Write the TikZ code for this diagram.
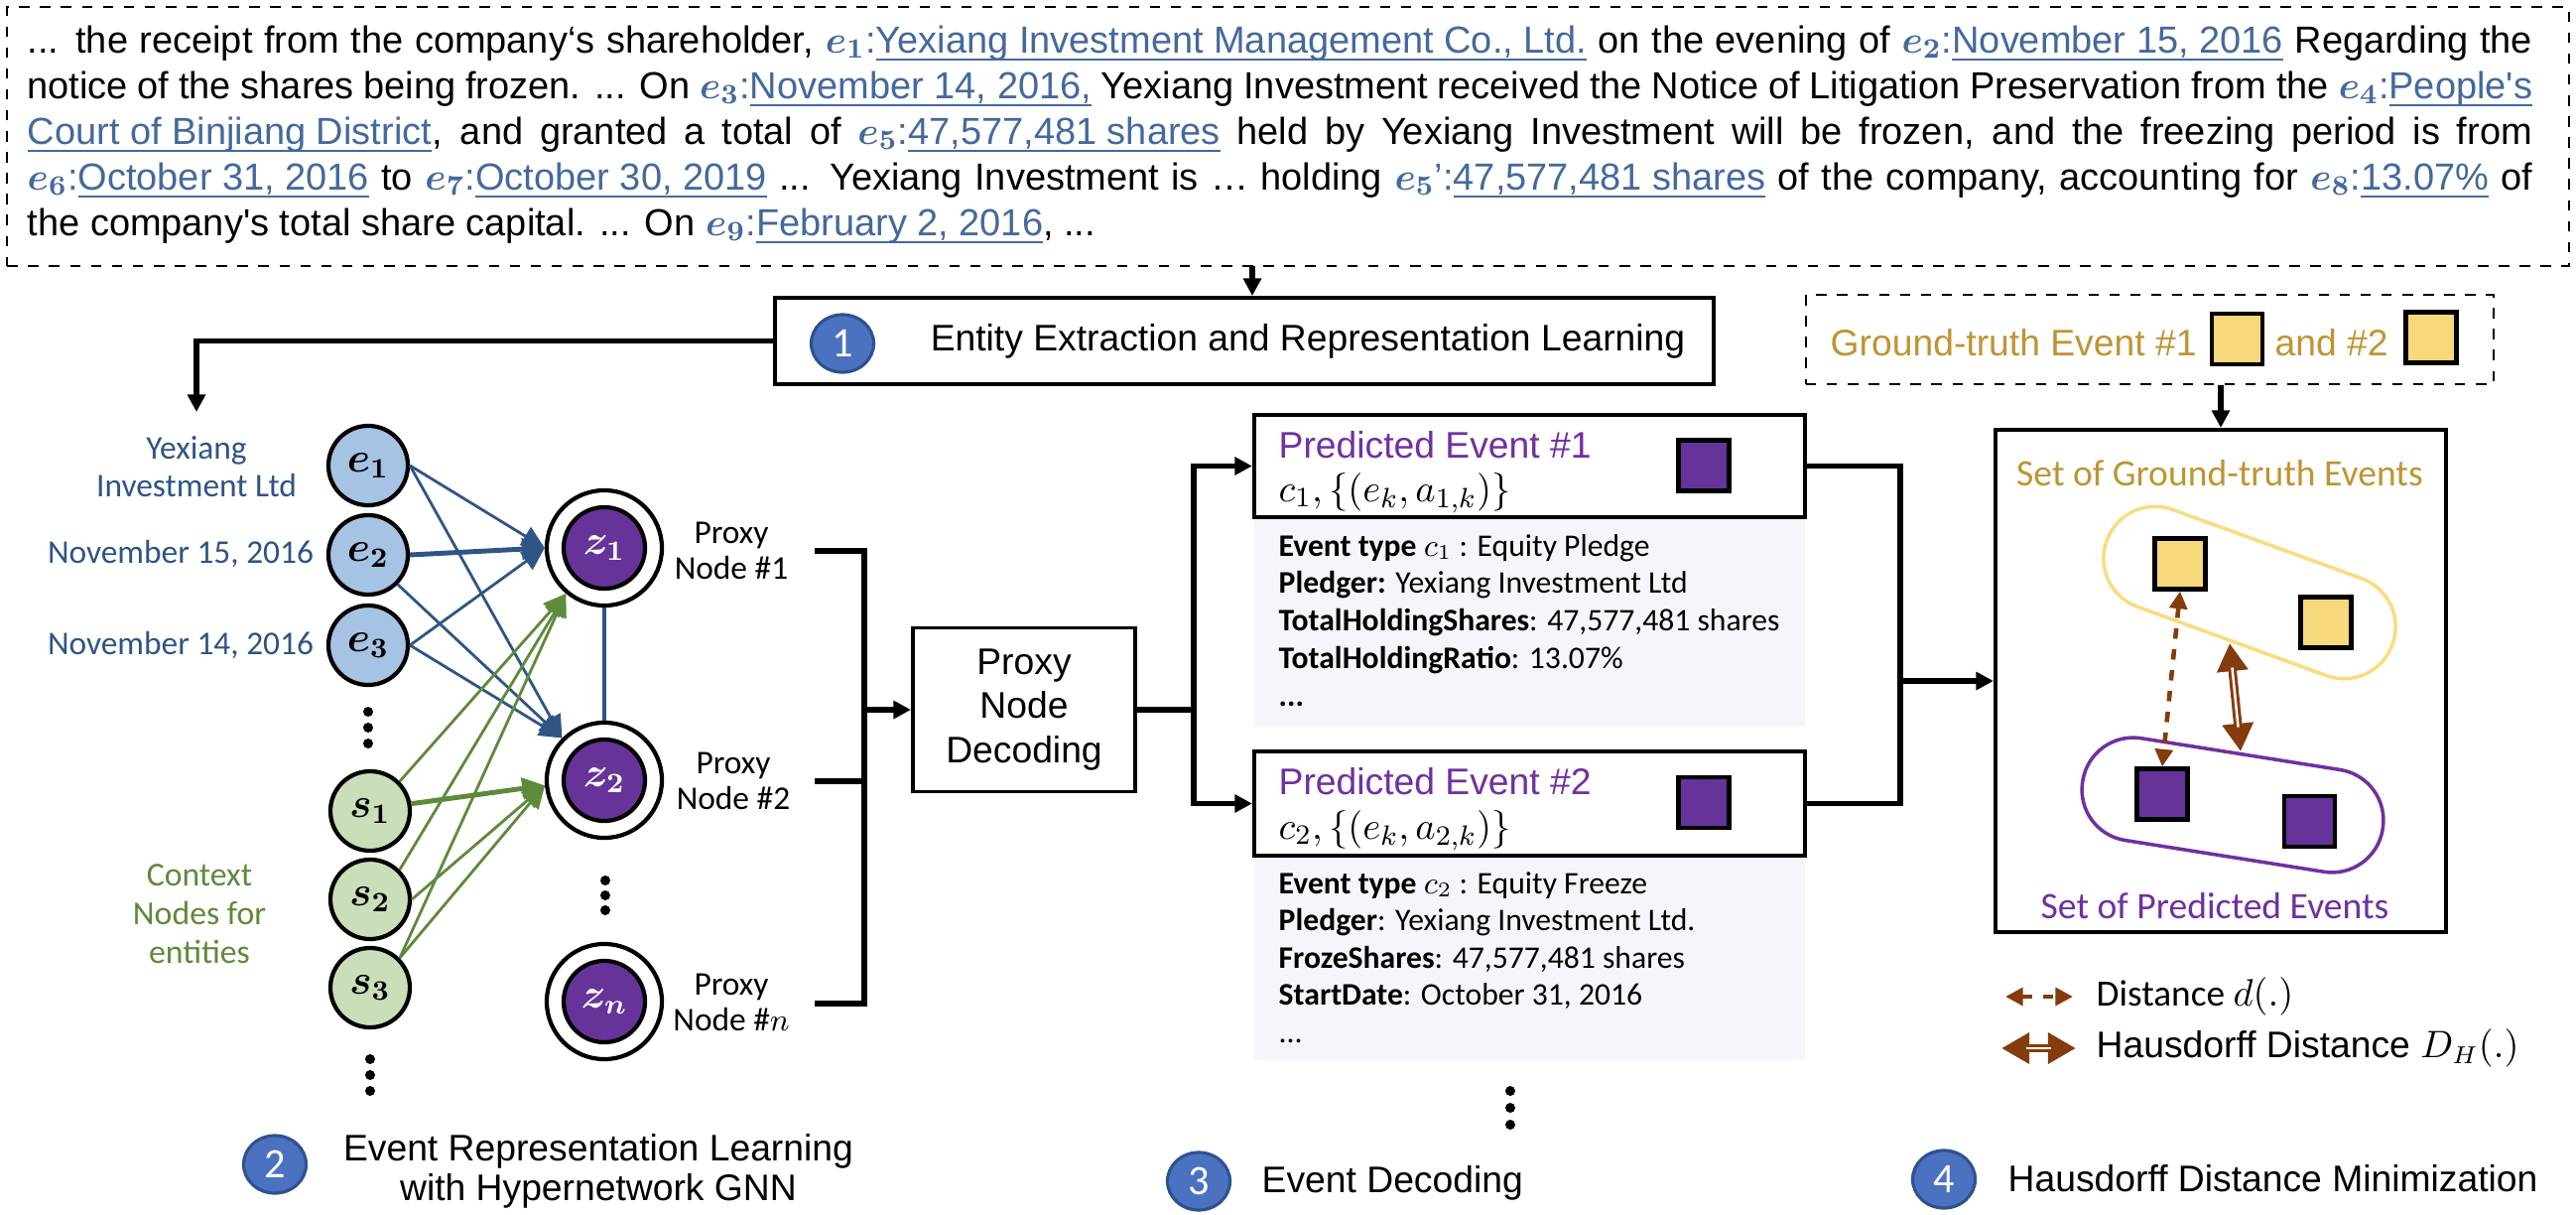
\documentclass[tikz,border=0pt]{standalone}
\usepackage[no-math]{fontspec}
\setmainfont{Liberation Sans}[Ligatures=TeXOff]
\newfontfamily\calibri{Carlito}
\usepackage{bm}
\usetikzlibrary{arrows.meta,calc,shapes.geometric}

\definecolor{entblue}{HTML}{44699C}
\definecolor{labblue}{HTML}{2E5484}
\definecolor{edgeblue}{HTML}{2F5584}
\definecolor{efill}{HTML}{A6C3E3}
\definecolor{sfill}{HTML}{CADFB9}
\definecolor{grn}{HTML}{5E8A3C}
\definecolor{zpurple}{HTML}{663399}
\definecolor{ppurple}{HTML}{7030A0}
\definecolor{gold}{HTML}{BF9432}
\definecolor{yfill}{HTML}{F7D87A}
\definecolor{yline}{HTML}{FADB7E}
\definecolor{hbrown}{HTML}{843C0C}
\definecolor{panelbg}{HTML}{F7F5FC}
\definecolor{numfill}{HTML}{4A72C0}
\definecolor{numdraw}{HTML}{2F528F}

% entity tags and underlined mentions in the source passage
\newsavebox\ulbox
\newcommand\ent[1]{\textcolor{entblue}{$\bm{e}_{\bm{#1}}$:}}
\newcommand\entp[1]{\textcolor{entblue}{$\bm{e}_{\bm{#1}}$’:}}
\newcommand\ul[1]{\textcolor{entblue}{\sbox\ulbox{#1}\rlap{\rule[-2.4pt]{\wd\ulbox}{0.75pt}}\usebox\ulbox}}
\newcommand\fP{\fontsize{10.8}{12.3}\selectfont}
\newcommand\fA{\fontsize{10.6}{12.2}\selectfont}
\newcommand\fC{\calibri\fontsize{9.5}{10.4}\selectfont}
\newcommand\fD{\calibri\fontsize{9}{10.4}\selectfont}
\newcommand\pline[1]{\makebox[25.23cm][s]{#1}}

\begin{document}
\begin{tikzpicture}[x=0.01cm,y=-0.01cm,
  conn/.style={line width=1.5pt},
  arr/.style={conn,-{Triangle[length=5pt,width=5pt]}},
  box/.style={draw,line width=1.1pt,inner sep=0},
  lbl/.style={inner sep=0},
  numc/.style={ellipse,fill=numfill,draw=numdraw,line width=0.9pt,minimum width=0.63cm,minimum height=0.58cm,inner sep=0,
    text=white,font=\calibri\fontsize{12}{12}\selectfont},
  enode/.style={circle,draw,line width=1.2pt,fill=efill,minimum size=0.8cm,inner sep=0,
    font=\fontsize{12}{12}\selectfont},
  snode/.style={enode,fill=sfill},
  zout/.style={circle,draw,line width=1.2pt,fill=white,minimum size=1.16cm,inner sep=0},
  zin/.style={circle,draw,line width=1.2pt,fill=zpurple,minimum size=0.82cm,inner sep=0,
    text=white,font=\fontsize{12}{12}\selectfont},
  bedge/.style={edgeblue,line width=0.8pt,-{Triangle[length=6.5pt,width=6pt]}},
  bedgeT/.style={bedge,line width=1.4pt},
  gedge/.style={grn,line width=0.8pt,-{Triangle[length=6.5pt,width=6pt]}},
  gedgeT/.style={gedge,line width=1.4pt},
  sq/.style={draw,line width=1.2pt,inner sep=0,minimum width=0.51cm,minimum height=0.51cm},
  ysq/.style={sq,fill=yfill},
  psq/.style={sq,fill=zpurple},
  dline/.style={hbrown,line width=1.3pt,dashed,{Triangle[length=5pt,width=5pt]}-{Triangle[length=5pt,width=5pt]}},
  hline/.style={hbrown,line width=2.4pt,{Triangle[length=8pt,width=8.5pt]}-{Triangle[length=8pt,width=8.5pt]}},
  hgap/.style={white,line width=0.7pt,shorten <=7pt,shorten >=7pt},
  capsule/.style={rounded corners=0.515cm,line width=1pt,minimum width=3.06cm,minimum height=1.04cm,inner sep=0}
]
\useasboundingbox (0,0) rectangle (2596,1224);

% ---------------- source passage ----------------
\node[box,dashed,line width=0.7pt,minimum width=25.8cm,minimum height=2.61cm] (para) at (1298,137.5) {};
\node[lbl,anchor=base west,font=\fP] (t1) at (27,53) {\pline{... the receipt from the company‘s shareholder, \ent{1}\ul{Yexiang Investment Management Co., Ltd.} on the evening of \ent{2}\ul{November 15, 2016} Regarding the}};
\node[lbl,anchor=base west,font=\fP] (t2) at (27,99) {\pline{notice of the shares being frozen. ... On \ent{3}\ul{November 14, 2016,} Yexiang Investment received the Notice of Litigation Preservation from the \ent{4}\ul{People's}}};
\node[lbl,anchor=base west,font=\fP] (t3) at (27,145) {\pline{\ul{Court of Binjiang District}, and granted a total of \ent{5}\ul{47,577,481 shares} held by Yexiang Investment will be frozen, and the freezing period is from}};
\node[lbl,anchor=base west,font=\fP] (t4) at (27,191) {\pline{\ent{6}\ul{October 31, 2016} to \ent{7}\ul{October 30, 2019} ... Yexiang Investment is … holding \entp{5}\ul{47,577,481 shares} of the company, accounting for \ent{8}\ul{13.07\%} of}};
\node[lbl,anchor=base west,font=\fP] (t5) at (27,237) {the company's total share capital. ... On \ent{9}\ul{February 2, 2016}, ...};

% ---------------- step 1 ----------------
\node[box,minimum width=9.46cm,minimum height=0.87cm] (b1) at (1254,343.5) {};
\node[numc] (n1) at (849,346) {1};
\node[lbl,font=\fA] (b1t) at (1318,344) {Entity Extraction and Representation Learning};
\coordinate (pa) at (1262,268);
\draw[arr] (pa) -- (pa |- b1.north);
\coordinate (etop) at (198,415);
\draw[arr] (b1.west) -| (etop);

% ---------------- step 2: graph ----------------
\node[lbl,font=\fC,text=labblue,align=center] (l1) at (198,470) {Yexiang\\[0.3pt]Investment Ltd};
\node[lbl,anchor=base,font=\fC,text=labblue] (l2) at (182,567) {November 15, 2016};
\node[lbl,anchor=base,font=\fC,text=labblue] (l3) at (182,659) {November 14, 2016};
\node[lbl,font=\calibri\fontsize{9.6}{11.1}\selectfont,text=grn,align=center] (lc) at (201,921) {Context\\Nodes for\\entities};

\node[enode] (e1) at (371,469) {$\bm{e}_{\bm 1}$};
\node[enode] (e2) at (371,559) {$\bm{e}_{\bm 2}$};
\node[enode] (e3) at (371,650) {$\bm{e}_{\bm 3}$};
\node[snode] (s1) at (373,817) {$\bm{s}_{\bm 1}$};
\node[snode] (s2) at (373,906) {$\bm{s}_{\bm 2}$};
\node[snode] (s3) at (373,995) {$\bm{s}_{\bm 3}$};
\foreach \y in {717,733,749} \fill (371,\y) circle[radius=0.05cm];
\foreach \y in {1067,1083,1099} \fill (373,\y) circle[radius=0.05cm];

\node[zout] (z1) at (609,552) {};
\node[zin] (z1i) at (z1) {$\bm{z}_{\bm 1}$};
\node[zout] (z2) at (609,786) {};
\node[zin] (z2i) at (z2) {$\bm{z}_{\bm 2}$};
\node[zout] (zn) at (609,1009) {};
\node[zin] (zni) at (zn) {$\bm{z}_{\bm n}$};
\foreach \y in {887,902,917} \fill (610,\y) circle[radius=0.05cm];

\draw[edgeblue,line width=0.9pt] (z1.south) -- (z2.north);
\draw[bedge] (e1.east) -- (z1.west);
\draw[bedge] (e1.east) -- (z2.135);
\draw[bedgeT] (e2.east) -- (z1.west);
\draw[bedge] (e2.-45) -- (z2.135);
\draw[bedge] (e3.east) -- (z1.west);
\draw[bedge] (e3.east) -- (z2.135);
\draw[gedge] (s1.45) -- (z1.230);
\draw[gedgeT] (s1.10) -- (z2.185);
\draw[gedge] (s2.45) -- (z1.230);
\draw[gedge] (s2.east) -- (z2.185);
\draw[gedge] (s3.45) -- (z1.230);
\draw[gedge] (s3.45) -- (z2.185);

\node[lbl,font=\fC,align=center] (px1) at (737,555) {Proxy\\Node \#1};
\node[lbl,font=\fC,align=center] (px2) at (739,787) {Proxy\\Node \#2};
\node[lbl,font=\fC,align=center] (pxn) at (737,1010) {Proxy\\Node \#$n$};

\coordinate (br1) at (821,555);
\coordinate (br2) at (821,787);
\coordinate (brn) at (821,1011);
\coordinate (bj) at (871,715);
\draw[conn] (br1) -| (bj) |- (brn);
\draw[conn] (br2) -- (br2 -| bj);

\node[numc] (n2) at (277,1173) {2};
\node[lbl,font=\fontsize{10.6}{11.4}\selectfont,align=center] (n2t) at (603,1180) {Event Representation Learning\\with Hypernetwork GNN};

% ---------------- step 3: decoding ----------------
\node[box,font=\fontsize{10.6}{12.6}\selectfont,align=center,minimum width=2.24cm,minimum height=1.65cm] (pnd) at (1032,715) {Proxy\\Node\\Decoding};
\draw[arr] (bj) -- (pnd.west);

\node[fill=panelbg,inner sep=0,minimum width=5.55cm,minimum height=2.11cm] (pp1) at (1541.5,626.5) {};
\node[fill=panelbg,inner sep=0,minimum width=5.55cm,minimum height=2.06cm] (pp2) at (1541.5,965) {};
\node[box,fill=white,minimum width=5.55cm,minimum height=1.03cm] (pe1) at (1541.5,469.5) {};
\node[box,fill=white,minimum width=5.55cm,minimum height=1.05cm] (pe2) at (1541.5,809.5) {};

\coordinate (sp) at (1203,715);
\draw[conn] (pnd.east) -- (sp);
\draw[arr] (sp) |- (pe1.west);
\draw[arr] (sp) |- (pe2.west);

\node[lbl,anchor=base west,font=\fA,text=ppurple] (pe1a) at (1288,461) {Predicted Event \#1};
\node[lbl,anchor=base west,font=\fontsize{11}{12}\selectfont] (pe1b) at (1288,505) {$c_1,\{(e_k,a_{1,k})\}$};
\node[psq] (pe1s) at (1717,469) {};
\node[lbl,anchor=base west,font=\fD] (d11) at (1288,560) {\textbf{Event type} $c_1$ : Equity Pledge};
\node[lbl,anchor=base west,font=\fD] (d12) at (1288,597.5) {\textbf{Pledger:} Yexiang Investment Ltd};
\node[lbl,anchor=base west,font=\fD] (d13) at (1288,635) {\textbf{TotalHoldingShares}: 47,577,481 shares};
\node[lbl,anchor=base west,font=\fD] (d14) at (1288,673) {\textbf{TotalHoldingRatio}: 13.07\%};
\node[lbl,anchor=base west,font=\fD] (d15) at (1288,711) {\textbf{...}};

\node[lbl,anchor=base west,font=\fA,text=ppurple] (pe2a) at (1288,800) {Predicted Event \#2};
\node[lbl,anchor=base west,font=\fontsize{11}{12}\selectfont] (pe2b) at (1288,845) {$c_2,\{(e_k,a_{2,k})\}$};
\node[psq] (pe2s) at (1717,808.5) {};
\node[lbl,anchor=base west,font=\fD] (d21) at (1288,900) {\textbf{Event type} $c_2$ : Equity Freeze};
\node[lbl,anchor=base west,font=\fD] (d22) at (1288,937.5) {\textbf{Pledger}: Yexiang Investment Ltd.};
\node[lbl,anchor=base west,font=\fD] (d23) at (1288,975) {\textbf{FrozeShares}: 47,577,481 shares};
\node[lbl,anchor=base west,font=\fD] (d24) at (1288,1012.5) {\textbf{StartDate}: October 31, 2016};
\node[lbl,anchor=base west,font=\fD] (d25) at (1288,1050) {...};

\foreach \y in {1099,1116,1133} \fill (1522,\y) circle[radius=0.05cm];
\node[numc] (n3) at (1208,1190) {3};
\node[lbl,anchor=west,font=\fA] (n3t) at (1271,1192) {Event Decoding};

% ---------------- step 4: set matching ----------------
\node[box,minimum width=4.54cm,minimum height=5.06cm] (rb) at (2238,686) {};
\coordinate (jn) at (1915,686);
\draw[conn] (pe1.east) -| (jn);
\draw[conn] (pe2.east) -| (jn);
\draw[arr] (jn) -- (rb.west);

\node[box,dashed,line width=0.7pt,minimum width=6.93cm,minimum height=0.9cm] (gt) at (2166.5,342) {};
\node[lbl,anchor=base west,font=\fA,text=gold] (gta) at (1844,358) {Ground-truth Event \#1};
\node[ysq] (gts1) at (2254.5,341.5) {};
\node[lbl,anchor=base west,font=\fA,text=gold] (gtb) at (2292,358) {and \#2};
\node[ysq] (gts2) at (2450,340) {};
\draw[arr] (rb.north |- gt.south) -- (rb.north);

\node[lbl,anchor=base,font=\calibri\fontsize{10.7}{12}\selectfont,text=gold] (sgt) at (2237,489) {Set of Ground-truth Events};
\node[capsule,draw=yline,rotate=-20] (cy) at (2267,597) {};
\node[capsule,draw=ppurple,rotate=-9] (cp) at (2250,811) {};
\node[ysq] (ya) at (2197,568) {};
\node[ysq] (yb) at (2344,627) {};
\node[psq] (pa1) at (2179,800) {};
\node[psq] (pb1) at (2327.5,827.5) {};
\node[lbl,font=\calibri\fontsize{10.7}{12}\selectfont,text=ppurple] (spe) at (2232,913) {Set of Predicted Events};

\draw[dline] (ya.south) -- (pa1.north);
\coordinate (hu) at (2247,648);
\coordinate (hd) at (2258,757);
\draw[hline] (hu) -- (hd);
\draw[hgap] (hu) -- (hd);

% legend
\coordinate (la) at (2021,1004);
\coordinate (lb) at (2089,1004);
\draw[dline] (la) -- (lb);
\node[lbl,anchor=west,font=\calibri\fontsize{10.6}{12}\selectfont] (lg1) at (2112,1004) {Distance $d(.)$};
\coordinate (lc1) at (2017,1056);
\coordinate (lc2) at (2092,1056);
\draw[hline] (lc1) -- (lc2);
\draw[hgap] (lc1) -- (lc2);
\node[lbl,anchor=west,font=\fA] (lg2) at (2112,1056) {Hausdorff Distance $D_H(.)$};

\node[numc] (n4) at (1959,1188) {4};
\node[lbl,anchor=west,font=\fA] (n4t) at (2023,1187) {Hausdorff Distance Minimization};
\end{tikzpicture}
\end{document}
